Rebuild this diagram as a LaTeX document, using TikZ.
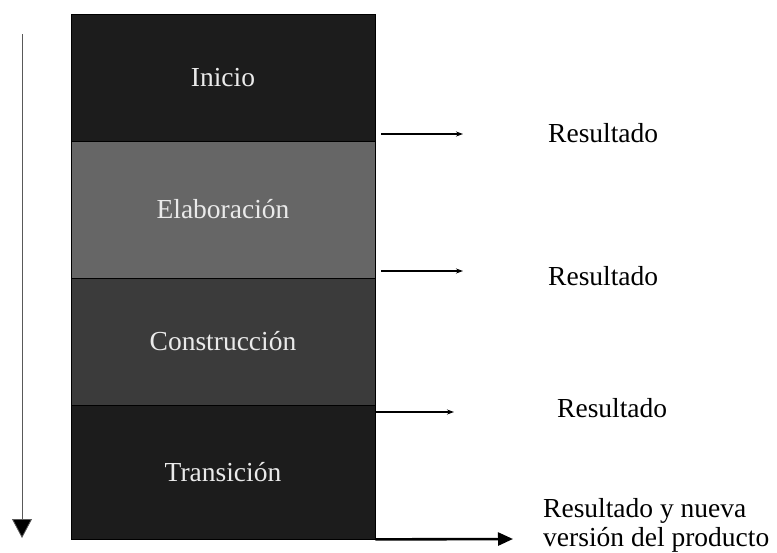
\documentclass[tikz,border=0pt]{standalone}
\usepackage{fontspec}
\setmainfont{Liberation Serif}
\usetikzlibrary{arrows.meta}
\definecolor{phasedark}{HTML}{1C1C1C}
\definecolor{phasemid}{HTML}{3B3B3B}
\definecolor{phaselight}{HTML}{666666}
\definecolor{phasetext}{HTML}{EAEAEA}
\tikzset{
  phase/.style={draw=black, line width=0.8pt, minimum width=304pt, inner sep=0pt,
    text=phasetext, font=\fontsize{27.5}{33}\selectfont},
  result/.style={font=\fontsize{27.5}{29}\selectfont, inner sep=0pt, text=black},
  outarrow/.style={line width=1.2pt, -{Stealth[length=7pt,width=5pt]}},
  finalarrow/.style={line width=2.6pt, -{Triangle[length=15pt,width=13pt]}},
}
\begin{document}
\begin{tikzpicture}[x=1pt,y=-1pt]
  \useasboundingbox[fill=white] (0,0) rectangle (777,552);

  % the four phases, stacked top to bottom
  \node[phase, fill=phasedark,  minimum height=127pt] (inicio) at (223,77.5)  {Inicio};
  \node[phase, fill=phaselight, minimum height=137pt] (elab)   at (223,209.5) {Elaboración};
  \node[phase, fill=phasemid,   minimum height=127pt] (constr) at (223,341.5) {Construcción};
  \node[phase, fill=phasedark,  minimum height=134pt] (trans)  at (223,472)   {Transición};

  % time axis on the left
  \coordinate (tstart) at (22,34);
  \coordinate (tend)   at (22,538);
  \draw[gray!70!black, line width=0.8pt, -{Triangle[length=19pt,width=20pt,fill=black]}] (tstart) -- (tend);

  % results produced at the end of each phase
  \node[result, anchor=west] (r1) at (548,133) {Resultado};
  \node[result, anchor=west] (r2) at (548,276) {Resultado};
  \node[result, anchor=west] (r3) at (557,408) {Resultado};
  \node[result, anchor=west, align=left] (r4) at (543,525) {Resultado y nueva\\versión del producto};

  \coordinate (a1s) at (381,134); \coordinate (a1e) at (463,134);
  \coordinate (a2s) at (381,271); \coordinate (a2e) at (463,271);
  \coordinate (a3s) at (375,412); \coordinate (a3e) at (454,412);
  \coordinate (a4s) at (trans.south east); \coordinate (a4e) at (513,539);

  \draw[outarrow] (a1s) -- (a1e);
  \draw[outarrow] (a2s) -- (a2e);
  \draw[outarrow] (a3s) -- (a3e);
  \draw[finalarrow] (a4s) -- (a4e);
\end{tikzpicture}
\end{document}
